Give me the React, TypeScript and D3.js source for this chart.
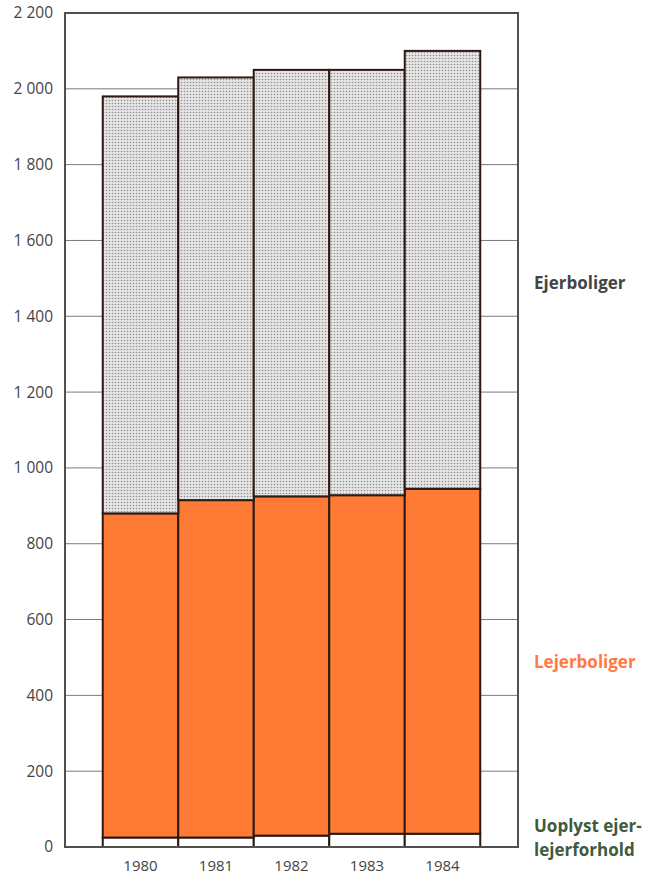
import React from 'react'
import * as d3 from 'd3'

const years = ['1980', '1981', '1982', '1983', '1984']
const uoplyst = [25, 25, 30, 35, 35]
const lejerboliger = [855, 890, 895, 893, 910]
const ejerboliger = [1100, 1115, 1125, 1122, 1155]
const yTicks = [0, 200, 400, 600, 800, 1000, 1200, 1400, 1600, 1800, 2000, 2200]

const seriesNames = ['uoplyst', 'lejer', 'ejer']
const fills: Record<string, string> = {
  uoplyst: '#ffffff',
  lejer: '#ff7a35',
  ejer: 'url(#dots)',
}

const W = 667
const H = 877
const left = 65
const right = 518
const top = 13
const bottom = 847

const fmt = (v: number) => d3.format(',')(v).replace(',', ' ')

export default function App() {
  const rows = years.map((y, i) => ({
    year: y,
    uoplyst: uoplyst[i],
    lejer: lejerboliger[i],
    ejer: ejerboliger[i],
  }))
  const stacked = d3.stack<any>().keys(seriesNames)(rows)

  const x = d3.scaleBand().domain(years).range([left, right]).paddingInner(0).paddingOuter(0.5)
  const y = d3.scaleLinear().domain([0, 2200]).range([bottom, top])

  return (
    <svg width={W} height={H} style={{ position: 'absolute', left: 0, top: 0, background: '#fff' }}
      fontFamily="'Open Sans', Lato, sans-serif">
      <defs>
        <pattern id="dots" width="3" height="3" patternUnits="userSpaceOnUse">
          <rect width="3" height="3" fill="#e6e6e6" />
          <circle cx="1.5" cy="1.5" r="0.8" fill="#8e8e8e" />
        </pattern>
      </defs>

      {yTicks.slice(1, -1).map(t => (
        <line key={t} x1={left} x2={right} y1={y(t)} y2={y(t)} stroke="#7a7a7a" strokeWidth={1} />
      ))}

      {stacked.map(layer => (
        <g key={layer.key}>
          {layer.map((d, i) => (
            <rect key={i}
              x={x(years[i])!}
              y={y(d[1])}
              width={x.bandwidth()}
              height={y(d[0]) - y(d[1])}
              fill={fills[layer.key]}
              stroke="#2b1a12"
              strokeWidth={2} />
          ))}
        </g>
      ))}

      <rect x={left} y={top} width={right - left} height={bottom - top} fill="none" stroke="#505050" strokeWidth={2} />

      {yTicks.map(t => (
        <text key={t} x={53} y={y(t)} dy="0.35em" textAnchor="end" fontSize={15.5} fill="#444">{fmt(t)}</text>
      ))}

      {years.map(yr => (
        <text key={yr} x={x(yr)! + x.bandwidth() / 2} y={871} textAnchor="middle" fontSize={15} fill="#444">{yr}</text>
      ))}

      <text x={534} y={289} fontSize={17} fontWeight="bold" fill="#444">Ejerboliger</text>
      <text x={534} y={668} fontSize={17} fontWeight="bold" fill="#ff7a45">Lejerboliger</text>
      <text x={534} y={832} fontSize={17} fontWeight="bold" fill="#3f5a3c">Uoplyst ejer-</text>
      <text x={534} y={856} fontSize={17} fontWeight="bold" fill="#3f5a3c">lejerforhold</text>
    </svg>
  )
}
